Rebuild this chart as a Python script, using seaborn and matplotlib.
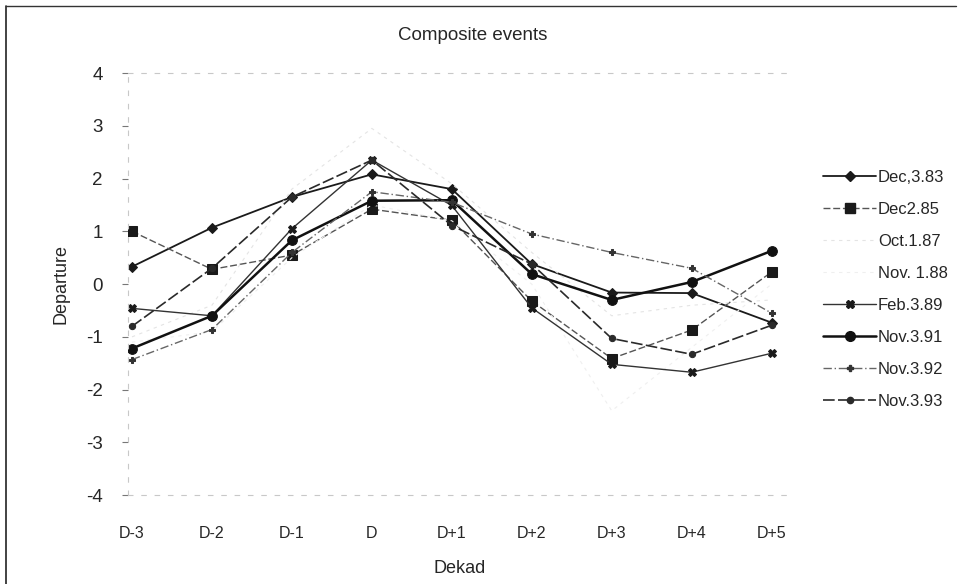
import matplotlib
matplotlib.use("Agg")
import matplotlib.pyplot as plt
import seaborn as sns
import pandas as pd
from matplotlib.lines import Line2D

# ---- data ----
dekads = ["D-3", "D-2", "D-1", "D", "D+1", "D+2", "D+3", "D+4", "D+5"]
dec_3_83 = [0.33, 1.07, 1.65, 2.08, 1.80, 0.38, -0.16, -0.17, -0.73]
dec2_85 = [1.00, 0.28, 0.55, 1.42, 1.21, -0.32, -1.41, -0.87, 0.23]
oct_1_87 = [-1.00, -0.40, 1.80, 2.95, 1.90, 0.60, -0.60, -0.40, -0.30]
nov_1_88 = [-1.10, -0.90, 0.50, 1.50, 1.20, 0.00, -2.40, -1.20, 0.00]
feb_3_89 = [-0.46, -0.60, 1.05, 2.35, 1.49, -0.45, -1.52, -1.67, -1.31]
nov_3_91 = [-1.22, -0.60, 0.83, 1.58, 1.59, 0.19, -0.30, 0.04, 0.63]
nov_3_92 = [-1.43, -0.86, 0.60, 1.75, 1.55, 0.95, 0.60, 0.30, -0.55]
nov_3_93 = [-0.80, 0.30, 1.65, 2.35, 1.11, 0.38, -1.03, -1.33, -0.78]
series_names = ["Dec,3.83", "Dec2.85", "Oct.1.87", "Nov. 1.88",
                "Feb.3.89", "Nov.3.91", "Nov.3.92", "Nov.3.93"]
series_values = [dec_3_83, dec2_85, oct_1_87, nov_1_88,
                 feb_3_89, nov_3_91, nov_3_92, nov_3_93]
y_ticks = [-4, -3, -2, -1, 0, 1, 2, 3, 4]

# ---- styles ----
styles = {
    "Dec,3.83": dict(color="#1a1a1a", lw=1.3, ls="-", marker="D", ms=5, mfc="#1a1a1a"),
    "Dec2.85": dict(color="#555555", lw=1.0, ls=(0, (5, 2)), marker="s", ms=7, mfc="#1a1a1a"),
    "Oct.1.87": dict(color="#e4e4e4", lw=0.8, ls=(0, (3, 4)), marker="", ms=0, mfc="none"),
    "Nov. 1.88": dict(color="#efefef", lw=0.8, ls=(0, (3, 4)), marker="", ms=0, mfc="none"),
    "Feb.3.89": dict(color="#333333", lw=1.0, ls="-", marker="X", ms=6, mfc="#1a1a1a"),
    "Nov.3.91": dict(color="#111111", lw=1.8, ls="-", marker="o", ms=7, mfc="#111111"),
    "Nov.3.92": dict(color="#666666", lw=1.0, ls=(0, (6, 2, 1, 2)), marker="P", ms=5, mfc="#333333"),
    "Nov.3.93": dict(color="#2a2a2a", lw=1.2, ls=(0, (7, 2)), marker="o", ms=4.5, mfc="#2a2a2a"),
}

sns.set_theme(style="white")
plt.rcParams["font.family"] = ["Liberation Sans", "DejaVu Sans"]

fig = plt.figure(figsize=(9.66, 5.84), dpi=100)
ax = fig.add_axes([0.1325, 0.152, 0.687, 0.723])

for name, vals in zip(series_names, series_values):
    st = styles[name]
    sns.lineplot(x=dekads, y=vals, ax=ax, sort=False, color=st["color"],
                 linewidth=st["lw"], linestyle=st["ls"], marker=st["marker"] or None,
                 markersize=st["ms"], markerfacecolor=st["mfc"],
                 markeredgecolor=st["mfc"], legend=False)

ax.set_xlim(-0.05, 8.25)
ax.set_ylim(-4, 4)
ax.set_yticks(y_ticks)
ax.set_yticklabels([str(t) for t in y_ticks], fontsize=13.5)
ax.tick_params(axis="x", length=0, pad=22, labelsize=11.5)
ax.tick_params(axis="y", length=4, width=0.8, color="#777777", pad=14, left=True)
ax.set_xticks(range(len(dekads)))
ax.set_xticklabels(dekads)

ax.spines["right"].set_visible(False)
for side in ["top", "bottom", "left"]:
    ax.spines[side].set_color("#c8c8c8")
    ax.spines[side].set_linestyle((0, (4, 8)))
    ax.spines[side].set_linewidth(0.8)

ax.set_title("Composite events", fontsize=13.5, pad=24, x=0.52)
ax.set_xlabel("Dekad", fontsize=13, labelpad=14)
ax.set_ylabel("Departure", fontsize=13, labelpad=12)

# legend
handles = []
for name in series_names:
    st = styles[name]
    handles.append(Line2D([0], [0], color=st["color"], lw=st["lw"], ls=st["ls"],
                          marker=st["marker"] or None, ms=st["ms"],
                          mfc=st["mfc"], mec=st["mfc"]))
leg = ax.legend(handles, series_names, loc="upper left",
                bbox_to_anchor=(0.845, 0.72), bbox_transform=fig.transFigure,
                frameon=False, fontsize=12, handlelength=3.2, handletextpad=0.1,
                labelspacing=1.02, borderaxespad=0)

# scanned page border (left and top edges)
fig.add_artist(Line2D([0.006, 0.006], [0.0, 0.99], transform=fig.transFigure,
                      color="#222222", lw=1.2))
fig.add_artist(Line2D([0.006, 0.99], [0.99, 0.99], transform=fig.transFigure,
                      color="#333333", lw=1.0))

fig.savefig("out.png", dpi=100)
